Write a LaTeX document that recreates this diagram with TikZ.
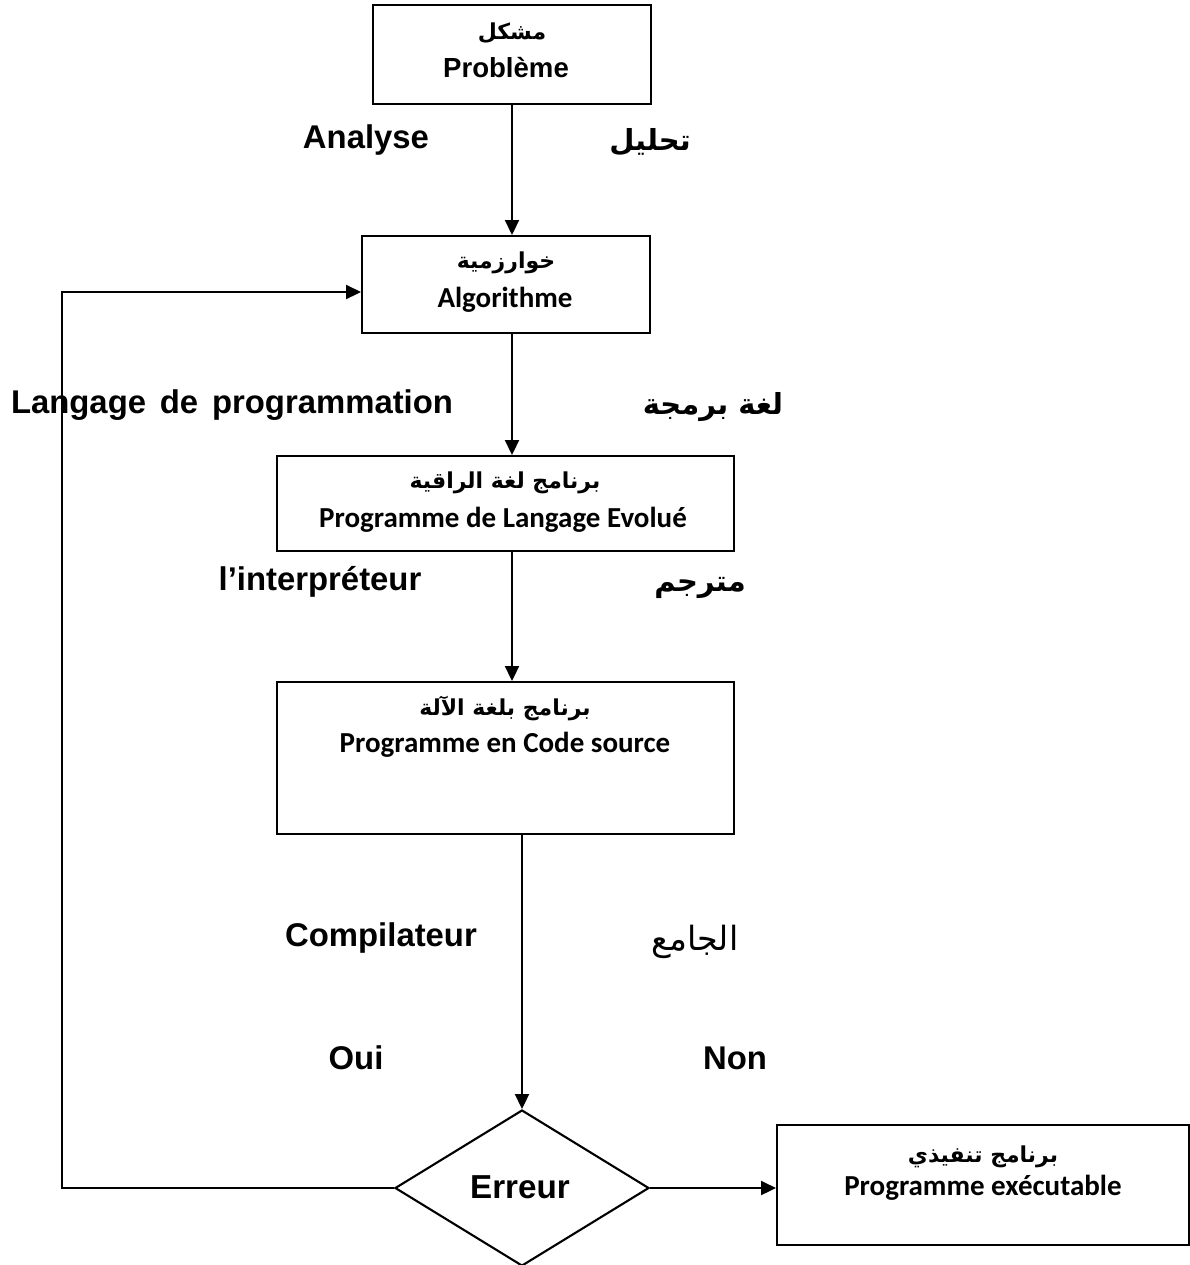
\documentclass[tikz,border=0pt]{standalone}
\usepackage{fontspec}
\setmainfont{Liberation Sans}
\newfontfamily\arfont[Script=Arabic]{DejaVu Sans}
\newfontfamily\calibrifont{Carlito}
\TeXXeTstate=1
\usetikzlibrary{arrows.meta,shapes.geometric}
\tikzset{
  box/.style={draw, line width=1.2pt, rectangle, inner sep=0pt},
  conn/.style={line width=1.2pt},
  arr/.style={conn, -{Triangle[length=8.5pt,width=8pt]}},
  lbl/.style={font=\fontsize{18.7}{22}\selectfont\bfseries, inner sep=0pt},
  arlbl/.style={font=\fontsize{16.5}{20}\selectfont\arfont\bfseries, inner sep=0pt},
  arin/.style={font=\fontsize{12.5}{15}\selectfont\arfont\bfseries, inner sep=0pt},
  frin/.style={font=\fontsize{16.5}{20}\selectfont\calibrifont\bfseries, inner sep=0pt},
}
\begin{document}
\begin{tikzpicture}[x=0.02cm,y=-0.02cm]
\useasboundingbox (0,0) rectangle (1190,1265);
% boxes
\node[box, minimum width=278*0.02cm, minimum height=99*0.02cm] (b1) at (512,54.5) {};
\node[box, minimum width=288*0.02cm, minimum height=97*0.02cm] (b2) at (506,284.5) {};
\node[box, minimum width=457*0.02cm, minimum height=95*0.02cm] (b3) at (505.5,503.5) {};
\node[box, minimum width=457*0.02cm, minimum height=152*0.02cm] (b4) at (505.5,758) {};
\node[draw, line width=1.2pt, diamond, aspect=1.628, inner sep=0pt, minimum width=254*0.02cm, minimum height=156*0.02cm] (d) at (522,1188) {};
\node[box, minimum width=412*0.02cm, minimum height=120*0.02cm] (b5) at (983,1185) {};
% box texts
\node[arin] (t1a) at (512,33) {\beginR مشكل\endR};
\node[inner sep=0pt, font=\fontsize{15.7}{19}\selectfont\bfseries] (t1b) at (506,68) {Problème};
\node[arin] (t2a) at (506,263) {\beginR خوارزمية\endR};
\node[frin] (t2b) at (505,300) {Algorithme};
\node[arin] (t3a) at (505,483) {\beginR برنامج لغة الراقية\endR};
\node[frin] (t3b) at (503,520) {Programme de Langage Evolué};
\node[arin] (t4a) at (505,708) {\beginR برنامج بلغة الآلة\endR};
\node[frin] (t4b) at (505,745) {Programme en Code source};
\node[arin] (t5a) at (983,1157) {\beginR برنامج تنفيذي\endR};
\node[frin] (t5b) at (983,1188) {Programme exécutable};
\node[inner sep=0pt, font=\fontsize{18.9}{22}\selectfont\bfseries] (te) at (520,1187) {Erreur};
% side labels
\node[lbl] (l1) at (366,140) {Analyse};
\node[arlbl] (l1a) at (650,142) {\beginR تحليل\endR};
\node[lbl] (l2) at (232,405) {\spaceskip=0.42em Langage de programmation};
\node[arlbl] (l2a) at (713,407) {\beginR لغة برمجة\endR};
\node[lbl] (l3) at (320,582) {l’interpréteur};
\node[arlbl] (l3a) at (700,588) {\beginR مترجم\endR};
\node[lbl] (l4) at (381,938) {Compilateur};
\node[inner sep=0pt, font=\fontsize{19}{22}\selectfont\arfont] (l4a) at (695,942) {\beginR الجامع\endR};
\node[lbl] (l5) at (356,1058) {Oui};
\node[lbl] (l6) at (735,1058) {Non};
% connectors
\coordinate (c1) at (62,1188);
\coordinate (c2) at (62,292);
\draw[arr] (b1.south) -- (b1.south |- b2.north);
\draw[arr] (b1.south |- b2.south) -- (b1.south |- b3.north);
\draw[arr] (b1.south |- b3.south) -- (b1.south |- b4.north);
\draw[arr] (d.north |- b4.south) -- (d.north);
\draw[arr] (d.west) -- (c1) -- (c2) -- (c2 -| b2.west);
\draw[arr] (d.east) -- (d.east -| b5.west);
\end{tikzpicture}
\end{document}
